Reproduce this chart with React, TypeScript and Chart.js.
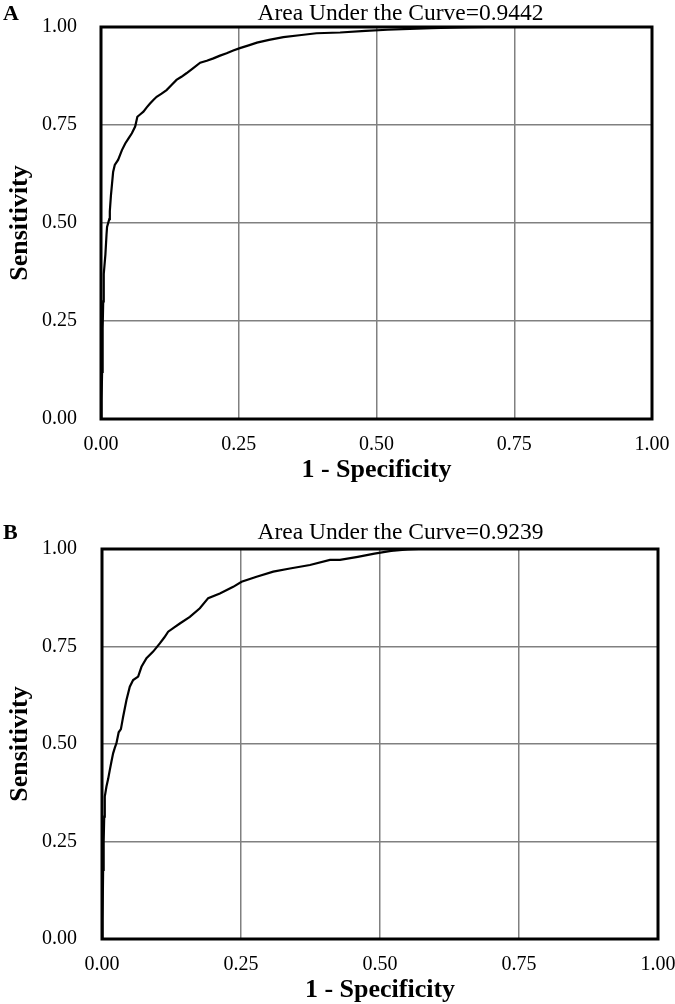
import React, { useEffect, useRef } from "react";
import { Chart, registerables } from "chart.js";

Chart.register(...registerables);

const tickValues = [0, 0.25, 0.5, 0.75, 1];
const xAxisTitle = "1 - Specificity";
const yAxisTitle = "Sensitivity";

const panelA = "A";
const titleA = "Area Under the Curve=0.9442";
const aFpr = [0, 0.001, 0.002, 0.003, 0.004, 0.005, 0.008, 0.01, 0.011, 0.015, 0.016, 0.018, 0.02, 0.022, 0.025, 0.031, 0.035, 0.038, 0.044, 0.05, 0.056, 0.062, 0.066, 0.072, 0.077, 0.083, 0.089, 0.095, 0.101, 0.11, 0.119, 0.128, 0.137, 0.146, 0.155, 0.168, 0.18, 0.192, 0.204, 0.216, 0.228, 0.24, 0.252, 0.268, 0.283, 0.305, 0.331, 0.36, 0.391, 0.434, 0.48, 0.52, 0.56, 0.6, 0.65, 0.7, 1.0];
const aTpr = [0, 0.05, 0.12, 0.23, 0.3, 0.37, 0.42, 0.47, 0.49, 0.51, 0.53, 0.57, 0.6, 0.63, 0.648, 0.661, 0.675, 0.686, 0.703, 0.716, 0.729, 0.746, 0.771, 0.778, 0.784, 0.795, 0.805, 0.814, 0.822, 0.83, 0.839, 0.852, 0.865, 0.873, 0.882, 0.896, 0.909, 0.914, 0.92, 0.927, 0.933, 0.94, 0.946, 0.953, 0.96, 0.967, 0.974, 0.979, 0.984, 0.986, 0.99, 0.993, 0.995, 0.997, 0.999, 1.0, 1.0];

const panelB = "B";
const titleB = "Area Under the Curve=0.9239";
const bFpr = [0, 0.001, 0.002, 0.003, 0.004, 0.005, 0.008, 0.011, 0.014, 0.017, 0.02, 0.023, 0.026, 0.03, 0.034, 0.037, 0.038, 0.044, 0.05, 0.056, 0.065, 0.071, 0.08, 0.092, 0.104, 0.112, 0.119, 0.13, 0.14, 0.158, 0.176, 0.191, 0.212, 0.236, 0.251, 0.278, 0.308, 0.338, 0.374, 0.41, 0.428, 0.46, 0.49, 0.52, 0.55, 0.57, 1.0];
const bTpr = [0, 0.05, 0.177, 0.25, 0.314, 0.365, 0.391, 0.41, 0.433, 0.455, 0.476, 0.49, 0.502, 0.53, 0.538, 0.562, 0.57, 0.613, 0.647, 0.664, 0.673, 0.698, 0.72, 0.737, 0.758, 0.773, 0.788, 0.799, 0.809, 0.826, 0.848, 0.874, 0.886, 0.903, 0.916, 0.929, 0.942, 0.95, 0.959, 0.972, 0.972, 0.98, 0.988, 0.995, 0.999, 1.0, 1.0];

const SERIF = '"Liberation Serif", "Times New Roman", serif';

function decorPlugin(panel: string, title: string, baseline: number, titleX: number) {
  return {
    id: "decor",
    afterDatasetsDraw(chart: any) {
      const { ctx, chartArea: a } = chart;
      ctx.save();
      ctx.strokeStyle = "#000";
      ctx.lineWidth = 3;
      ctx.strokeRect(a.left, a.top, a.right - a.left, a.bottom - a.top);
      ctx.fillStyle = "#000";
      ctx.textBaseline = "alphabetic";
      ctx.textAlign = "left";
      ctx.font = `bold 22px ${SERIF}`;
      ctx.fillText(panel, 3, baseline);
      ctx.textAlign = "center";
      ctx.font = `23.5px ${SERIF}`;
      ctx.fillText(title, titleX, baseline);
      ctx.restore();
    },
  };
}

function zeroPad(s: any) {
  s.paddingTop = 0;
  s.paddingBottom = 0;
  s.paddingLeft = 0;
  s.paddingRight = 0;
}

function buildConfig(
  fpr: number[],
  tpr: number[],
  panel: string,
  title: string,
  padTop: number,
  padRight: number,
  yWidth: number,
  baseline: number
): any {
  return {
    type: "line",
    data: {
      datasets: [
        {
          data: fpr.map((x, i) => ({ x, y: tpr[i] })),
          borderColor: "#000",
          borderWidth: 2.2,
          pointRadius: 0,
          tension: 0,
          fill: false,
        },
      ],
    },
    options: {
      responsive: false,
      animation: false,
      layout: { padding: { top: padTop, right: padRight, left: 0, bottom: 0 } },
      plugins: { legend: { display: false }, tooltip: { enabled: false }, title: { display: false } },
      scales: {
        x: {
          type: "linear",
          min: 0,
          max: 1,
          afterBuildTicks: (s: any) => {
            s.ticks = tickValues.map((v) => ({ value: v }));
          },
          afterFit: (s: any) => {
            s.height = 65;
            zeroPad(s);
          },
          ticks: {
            callback: (v: any) => Number(v).toFixed(2),
            font: { family: SERIF, size: 20 },
            color: "#000",
            padding: 14,
            maxRotation: 0,
            autoSkip: false,
          },
          grid: { color: "#808080", lineWidth: 1.5, drawTicks: false },
          border: { display: false },
          title: {
            display: true,
            text: xAxisTitle,
            color: "#000",
            font: { family: SERIF, size: 26, weight: "bold", lineHeight: 1 },
            padding: { top: 0, bottom: 1 },
          },
        },
        y: {
          type: "linear",
          min: 0,
          max: 1,
          afterBuildTicks: (s: any) => {
            s.ticks = tickValues.map((v) => ({ value: v }));
          },
          afterFit: (s: any) => {
            s.width = yWidth;
            zeroPad(s);
          },
          ticks: {
            callback: (v: any) => Number(v).toFixed(2),
            font: { family: SERIF, size: 20 },
            color: "#000",
            padding: yWidth - 77,
            autoSkip: false,
          },
          grid: { color: "#808080", lineWidth: 1.5, drawTicks: false },
          border: { display: false },
          title: {
            display: true,
            text: yAxisTitle,
            color: "#000",
            font: { family: SERIF, size: 26, weight: "bold", lineHeight: 1 },
            padding: { top: 7, bottom: 0 },
          },
        },
      },
    },
    plugins: [decorPlugin(panel, title, baseline, 400.5)],
  };
}

function RocChart(props: { cfg: any; width: number; height: number; top: number }) {
  const ref = useRef<HTMLCanvasElement | null>(null);
  useEffect(() => {
    if (!ref.current) return;
    const chart = new Chart(ref.current, props.cfg);
    return () => chart.destroy();
  }, []);
  return (
    <canvas
      ref={ref}
      width={props.width}
      height={props.height}
      style={{ position: "absolute", left: 0, top: props.top, width: props.width, height: props.height }}
    />
  );
}

export default function App() {
  const cfgA = buildConfig(aFpr, aTpr, panelA, titleA, 27, 23, 101, 20);
  const cfgB = buildConfig(bFpr, bTpr, panelB, titleB, 65, 17, 102, 55);
  return (
    <div style={{ position: "absolute", left: 0, top: 0, width: 675, height: 1004, overflow: "hidden", background: "#fff" }}>
      <RocChart cfg={cfgA} width={675} height={484} top={0} />
      <RocChart cfg={cfgB} width={675} height={520} top={484} />
    </div>
  );
}
